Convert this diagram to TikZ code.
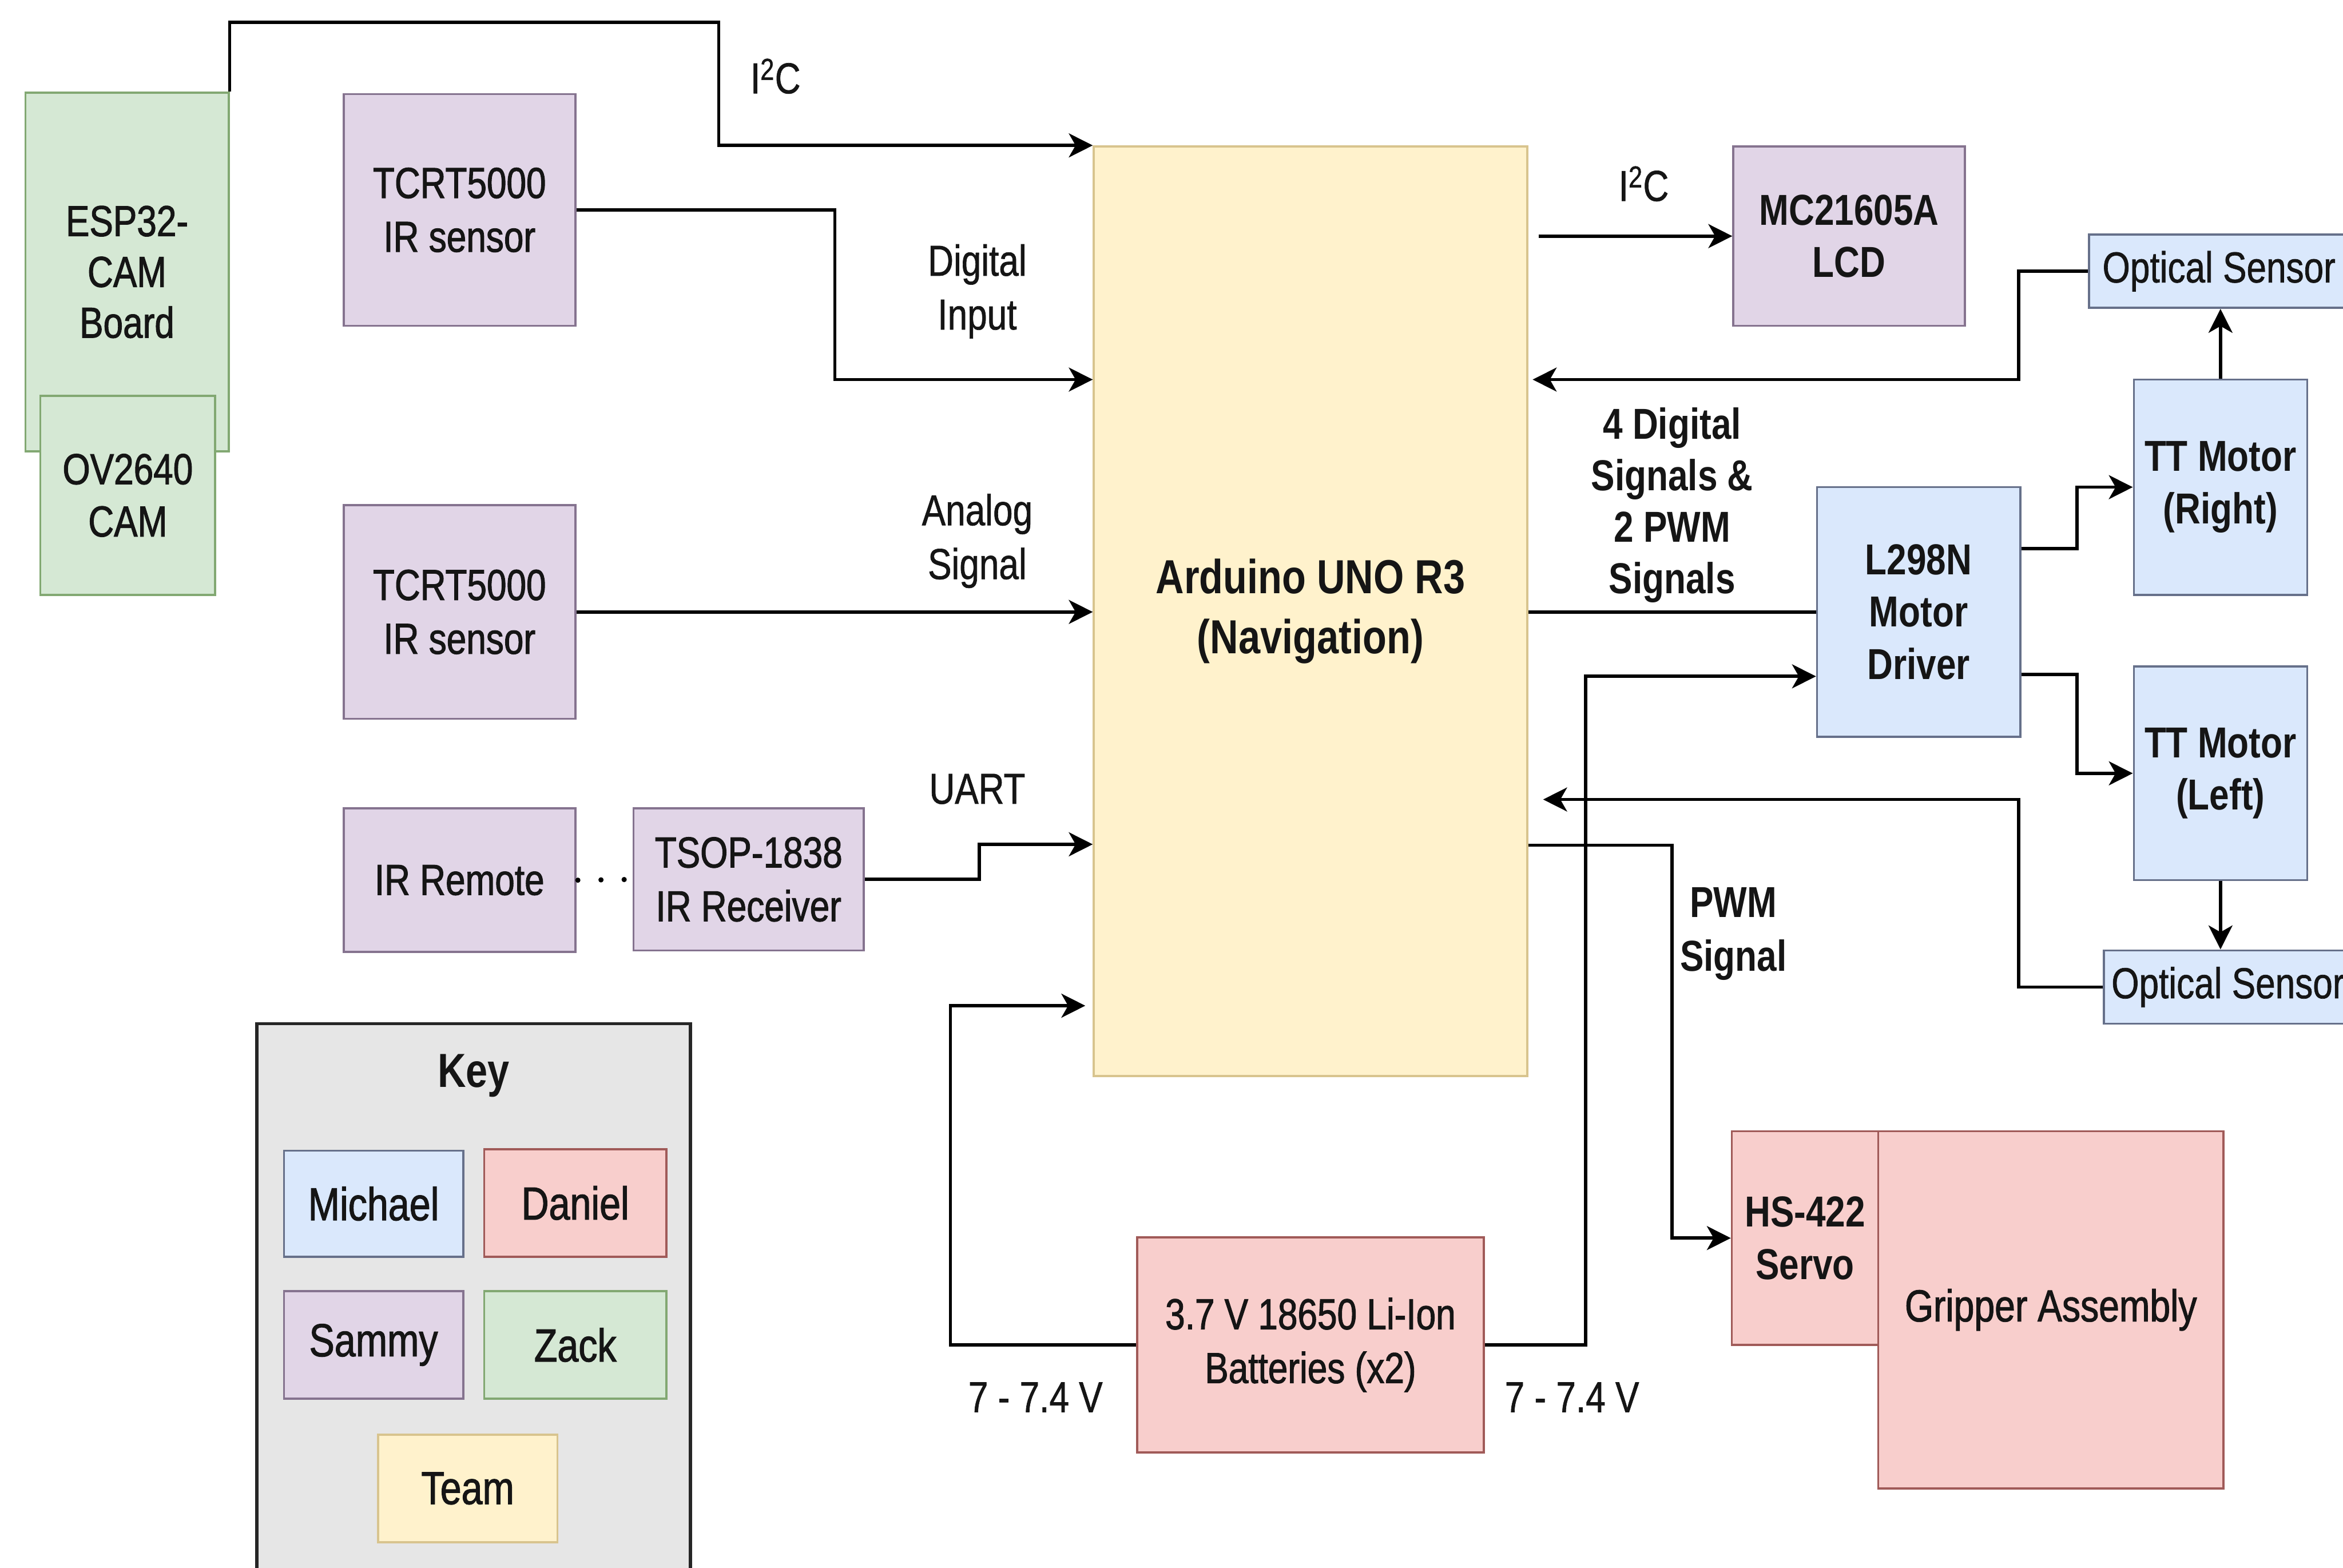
\documentclass[tikz,border=0pt]{standalone}
\usepackage{fontspec}
\setmainfont{Liberation Sans}[FakeStretch=0.82]
\usetikzlibrary{arrows.meta}
\definecolor{blueF}{HTML}{DAE8FC}\definecolor{blueD}{HTML}{66708A}
\definecolor{redF}{HTML}{F8CECC}\definecolor{redD}{HTML}{A05A58}
\definecolor{purF}{HTML}{E1D5E7}\definecolor{purD}{HTML}{85738F}
\definecolor{grnF}{HTML}{D5E8D4}\definecolor{grnD}{HTML}{82A872}
\definecolor{yelF}{HTML}{FFF2CC}\definecolor{yelD}{HTML}{D8C48E}
\definecolor{keyF}{HTML}{E6E6E6}
\definecolor{txt}{HTML}{151515}
\newcommand{\semibold}{\addfontfeature{FakeBold=1.4}}
\newcommand{\lightbold}{\addfontfeature{FakeBold=0.9}}
\begin{document}
\begin{tikzpicture}[x=1pt,y=-1pt,
  every node/.style={text=txt},
  txtfont/.style={font=\fontsize{29}{36}\selectfont\semibold},
  boldfont/.style={font=\fontsize{29}{35}\selectfont\bfseries},
  box/.style={draw, line width=1.4pt, inner sep=0pt, align=center, txtfont},
  bluebox/.style={box, fill=blueF, draw=blueD},
  redbox/.style={box, fill=redF, draw=redD},
  purbox/.style={box, fill=purF, draw=purD},
  grnbox/.style={box, fill=grnF, draw=grnD},
  yelbox/.style={box, fill=yelF, draw=yelD},
  lbl/.style={align=center, inner sep=0pt, font=\fontsize{29}{36}\selectfont\lightbold},
  wire/.style={line width=2.2pt, draw=black},
  arr/.style={wire, -{Stealth[length=16pt,width=16pt,inset=4.5pt]}},
]
\clip (0,0) rectangle (1568,1049);
\fill[white] (0,0) rectangle (1568,1049);

% ---------- left column ----------
\node[grnbox, minimum width=136pt, minimum height=240pt, font=\fontsize{29}{34}\selectfont\semibold] (esp) at (85,182) {ESP32-\\CAM\\Board};
\node[grnbox, minimum width=117pt, minimum height=133pt, font=\fontsize{29}{35}\selectfont\semibold] (ov) at (85.5,331.5) {OV2640\\CAM};
\node[purbox, minimum width=155pt, minimum height=155pt] (tc1) at (307.5,140.5) {TCRT5000\\IR sensor};
\node[purbox, minimum width=155pt, minimum height=143pt] (tc2) at (307.5,409.5) {TCRT5000\\IR sensor};
\node[purbox, minimum width=155pt, minimum height=96pt] (irr) at (307.5,589) {IR Remote};
\node[purbox, minimum width=154pt, minimum height=95pt] (tsop) at (501,588.5) {TSOP-1838\\IR Receiver};

% ---------- center ----------
\node[yelbox, minimum width=290pt, minimum height=622pt, font=\fontsize{32}{40}\selectfont\bfseries] (ard) at (877,409) {Arduino UNO R3\\(Navigation)};
\node[redbox, minimum width=232pt, minimum height=144pt] (bat) at (877,900) {3.7 V 18650 Li-Ion\\Batteries (x2)};

% ---------- right ----------
\node[purbox, minimum width=155pt, minimum height=120pt, boldfont] (lcd) at (1237.5,158) {MC21605A\\LCD};
\node[bluebox, minimum width=136pt, minimum height=167pt, boldfont] (l298) at (1284,409.5) {L298N\\Motor\\Driver};
\node[bluebox, minimum width=116pt, minimum height=144pt, boldfont] (ttr) at (1486,326) {TT Motor\\(Right)};
\node[bluebox, minimum width=116pt, minimum height=143pt, boldfont] (ttl) at (1486,517.5) {TT Motor\\(Left)};
\node[bluebox, minimum width=174pt, minimum height=49pt, lbl] (opt1) at (1485,181.5) {Optical Sensor};
\node[bluebox, minimum width=166pt, minimum height=49pt, lbl] (opt2) at (1491,660.5) {Optical Sensor};
\node[redbox, minimum width=98pt, minimum height=143pt, boldfont] (servo) at (1208,828.5) {HS-422\\Servo};
\node[redbox, minimum width=231pt, minimum height=239pt, font=\fontsize{30}{36}\selectfont\semibold] (grip) at (1372.5,876.5) {Gripper Assembly};

% ---------- key ----------
\node[draw=black!85, fill=keyF, line width=2.2pt, minimum width=290pt, minimum height=400pt, inner sep=0pt] (key) at (317,885) {};
\node[align=center, inner sep=0pt, font=\fontsize{32}{36}\selectfont\bfseries] (keyt) at (317,720) {Key};
\node[bluebox, minimum width=120pt, minimum height=71pt, font=\fontsize{31}{36}\selectfont\semibold] (kmi) at (250,805.5) {Michael};
\node[redbox, minimum width=122pt, minimum height=72pt, font=\fontsize{31}{36}\selectfont\semibold] (kda) at (385,805) {Daniel};
\node[purbox, minimum width=120pt, minimum height=72pt, font=\fontsize{31}{36}\selectfont\semibold] (ksa) at (250,900) {Sammy};
\node[grnbox, minimum width=122pt, minimum height=72pt, font=\fontsize{31}{36}\selectfont\semibold] (kza) at (385,900) {Zack};
\node[yelbox, minimum width=120pt, minimum height=72pt, font=\fontsize{31}{36}\selectfont\semibold] (kte) at (313,996) {Team};

% ---------- labels ----------
\node[lbl] (l1) at (519,51) {I\textsuperscript{2}C};
\node[lbl] (l2) at (654,195) {Digital\\Input};
\node[lbl] (l3) at (654,362) {Analog\\Signal};
\node[lbl] (l4) at (654,528) {UART};
\node[lbl] (l5) at (693,935) {7 - 7.4 V};
\node[lbl] (l6) at (1052,935) {7 - 7.4 V};
\node[lbl] (l7) at (1100,123) {I\textsuperscript{2}C};
\node[align=center, inner sep=0pt, font=\fontsize{29}{34.5}\selectfont\bfseries] (l8) at (1119,338) {4 Digital\\Signals \&\\2 PWM\\Signals};
\node[align=center, inner sep=0pt, font=\fontsize{29}{36}\selectfont\bfseries] (l9) at (1160,625) {PWM\\Signal};

% ---------- connectors ----------
\coordinate (b1) at (481,15);
\draw[arr] (esp.north east) |- (b1) |- (ard.north west);
\draw[arr] (tc1.east) -| (558.7,254) -- (ard.west |- 0,254);
\draw[arr] (tc2.east) -- (tc2.east -| ard.west);
\draw[line width=3.5pt, line cap=round, dash pattern=on 0pt off 15.5pt] (irr.east) ++(1,0) -- (tsop.west);
\draw[arr] (tsop.east) -| (655.5,565) -- (ard.west |- 0,565);
\draw[arr, shorten >=5pt] (bat.west) -| (636,673) -- (ard.west |- 0,673);
\draw[arr] (bat.east) -| (1061,452.6) -- (l298.west |- 0,452.6);
\draw[wire] (ard.east |- l298.west) -- (l298.west);
\draw[arr] (l298.east |- 0,367) -| (1390,326) -- (ttr.west);
\draw[arr] (l298.east |- 0,451.4) -| (1390,517.5) -- (ttl.west);
\draw[arr] (ttr.north) -- (ttr.north |- opt1.south);
\draw[arr] (ttl.south) -- (ttl.south |- opt2.north);
\draw[arr, shorten >=3pt] (opt1.west) -| (1351,254) -- (ard.east |- 0,254);
\draw[arr, shorten >=10pt] (opt2.west) -| (1351,535) -- (ard.east |- 0,535);
\draw[arr] (ard.east |- 0,565.6) -| (1119,828.5) -- (servo.west);
\draw[arr, shorten <=7pt] (ard.east |- lcd.west) -- (lcd.west);
\end{tikzpicture}
\end{document}
